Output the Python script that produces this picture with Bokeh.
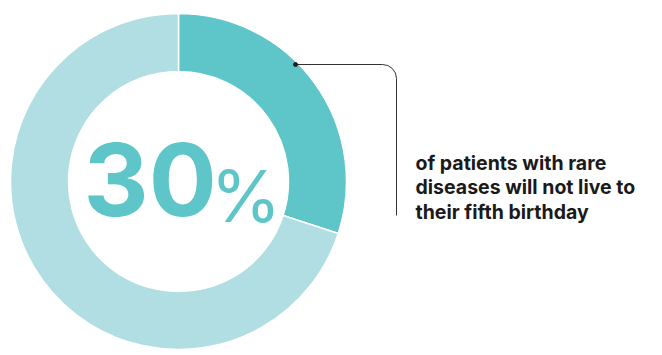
import math
from bokeh.plotting import figure
from bokeh.models import Range1d
from bokeh.core.properties import value
from bokeh.embed import file_html
from bokeh.resources import INLINE

# data
share_pct = [30, 70]
slice_colors = ["#5EC5C9", "#B0DEE2"]
big_number = "30"
percent_sign = "%"
note_lines = ["of patients with rare", "diseases will not live to", "their fifth birthday"]

W, H = 662, 355
p = figure(width=W, height=H, output_backend="svg", toolbar_location=None,
           x_range=Range1d(0, W), y_range=Range1d(0, H),
           min_border=0)
p.axis.visible = False
p.grid.visible = False
p.outline_line_color = None
p.background_fill_color = "white"
p.border_fill_color = "white"

def Y(img_y):
    return H - img_y

cx, cy = 178, Y(181)
r_out, r_in = 168, 110

start = math.pi / 2
total = sum(share_pct)
for v, c in zip(share_pct, slice_colors):
    span = 2 * math.pi * v / total
    p.annular_wedge(x=cx, y=cy, inner_radius=r_in, outer_radius=r_out,
                    start_angle=start - span, end_angle=start,
                    fill_color=c, line_color="white", line_width=1.5)
    start -= span

# center text
p.text(x=[cx - 95], y=[Y(179)], text=[big_number], text_font=value("Inter"),
       text_font_size="101px", text_font_style="bold", text_color=slice_colors[0],
       text_baseline="alphabetic", text_align="left")
p.text(x=[cx + 32], y=[Y(195)], text=[percent_sign], text_font=value("Inter"),
       text_font_size="72px", text_font_style="normal", text_color=slice_colors[0],
       text_baseline="alphabetic", text_align="left")

# annotation leader
ly = Y(64)
rc = 14
p.line(x=[295, 396 - rc], y=[ly, ly], line_color="#333333", line_width=1)
p.arc(x=[396 - rc], y=[ly - rc], radius=rc, start_angle=0, end_angle=math.pi / 2,
      line_color="#333333", line_width=1)
p.line(x=[396, 396], y=[ly - rc, Y(215)], line_color="#333333", line_width=1)
p.scatter(x=[295], y=[ly], size=4, color="#222222")

# note text
for i, t in enumerate(note_lines):
    p.text(x=[415], y=[Y(162 + 24.5 * i)], text=[t], text_font=value("Inter"),
           text_font_size="19.5px", text_font_style="bold", text_color="#1a1a1a",
           text_baseline="alphabetic", text_align="left")

open("out.html", "w").write(file_html(p, INLINE))
